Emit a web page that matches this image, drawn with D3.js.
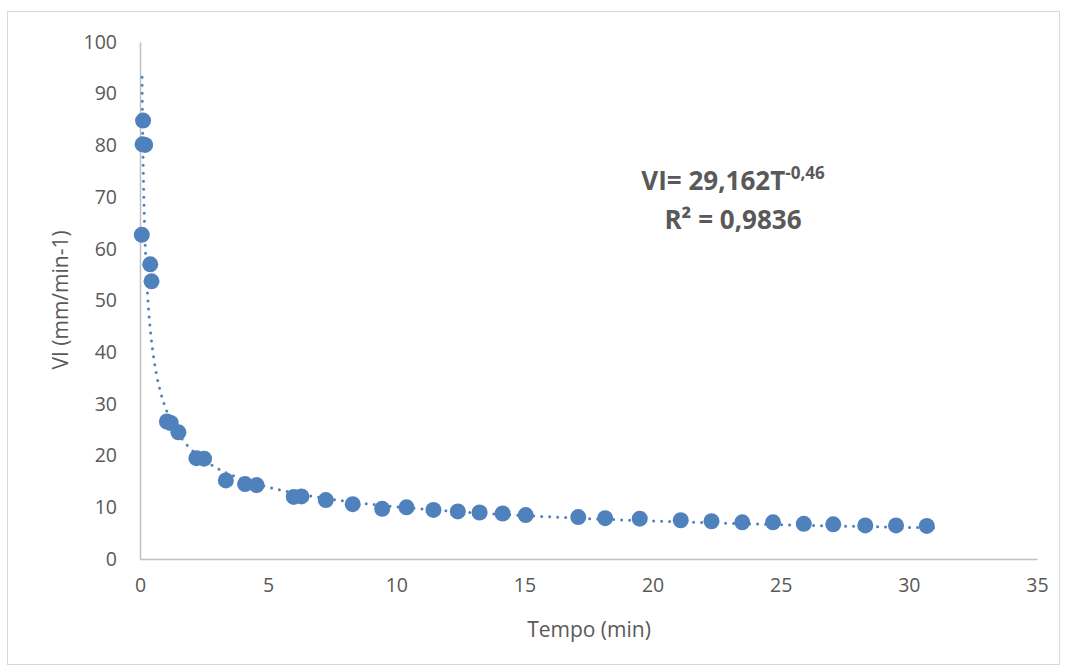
<!DOCTYPE html>
<html lang="en">
<head>
<meta charset="UTF-8">
<title>VI x Tempo</title>
<style>
  body { margin: 0; background: #fff; }
  text { font-family: "Open Sans", "Liberation Sans", sans-serif; fill: #595959; }
</style>
</head>
<body>
<script src="https://d3js.org/d3.v7.min.js"></script>
<div id="chart"></div>
<script>
// dados
var tempo = [0.12, 0.1, 0.2, 0.07, 0.4, 0.45, 1.05, 1.2, 1.5, 2.2, 2.5, 3.35, 4.1, 4.55,
             6.0, 6.3, 7.25, 8.3, 9.45, 10.4, 11.45, 12.4, 13.25, 14.15, 15.05,
             17.1, 18.15, 19.5, 21.1, 22.3, 23.5, 24.7, 25.9, 27.05, 28.3, 29.5, 30.7];
var vi = [84.8, 80.2, 80.1, 62.7, 57.0, 53.7, 26.6, 26.3, 24.5, 19.5, 19.4, 15.2, 14.5, 14.3,
          12.0, 12.1, 11.4, 10.6, 9.7, 10.0, 9.5, 9.2, 9.0, 8.8, 8.5,
          8.1, 7.9, 7.8, 7.5, 7.3, 7.1, 7.1, 6.8, 6.7, 6.5, 6.5, 6.4];
var xTicks = [0, 5, 10, 15, 20, 25, 30, 35];
var yTicks = [0, 10, 20, 30, 40, 50, 60, 70, 80, 90, 100];
// linha de tendência potencial (equação exibida no gráfico)
var coefA = 29.162, coefB = -0.46;
var trendStart = 0.08, trendEnd = 31;

var W = 1067, H = 669;
var margin = { top: 42, right: 30, bottom: 110, left: 140 },
    width = 1037 - margin.left,
    height = 559 - margin.top;

var svg = d3.select("#chart").append("svg")
    .attr("width", W)
    .attr("height", H);

// moldura
svg.append("rect")
    .attr("x", 7.5).attr("y", 11.5)
    .attr("width", 1052).attr("height", 653)
    .attr("fill", "none")
    .attr("stroke", "#d9d9d9");

var g = svg.append("g")
    .attr("transform", "translate(" + margin.left + "," + margin.top + ")");

var x = d3.scaleLinear().domain([0, 35]).range([0, width]);
var y = d3.scaleLinear().domain([0, 100]).range([height, 0]);

// eixos
var xAxis = g.append("g")
    .attr("transform", "translate(0," + height + ")")
    .call(d3.axisBottom(x).tickValues(xTicks).tickSize(0).tickPadding(19));
xAxis.select(".domain").attr("stroke", "#bfbfbf").attr("stroke-width", 1.5);
xAxis.selectAll("text").style("font-size", "19.5px").attr("fill", "#595959");

var yAxis = g.append("g")
    .call(d3.axisLeft(y).tickValues(yTicks).tickSize(0).tickPadding(23));
yAxis.select(".domain").attr("stroke", "#bfbfbf").attr("stroke-width", 1.5);
yAxis.selectAll("text").style("font-size", "19.5px").attr("fill", "#595959");

// pontos
var pts = tempo.map(function(t, i) { return { t: t, v: vi[i] }; });
g.selectAll("circle")
    .data(pts)
    .enter()
    .append("circle")
    .attr("cx", function(d) { return x(d.t); })
    .attr("cy", function(d) { return y(d.v); })
    .attr("r", 8)
    .attr("fill", "#4F81BD");

// tendência
var trend = d3.range(0, 301).map(function(i) {
    var t = trendStart * Math.pow(trendEnd / trendStart, i / 300);
    return { t: t, v: coefA * Math.pow(t, coefB) };
});
g.append("path")
    .datum(trend)
    .attr("fill", "none")
    .attr("stroke", "#4F81BD")
    .attr("stroke-width", 3)
    .attr("stroke-linecap", "round")
    .attr("stroke-dasharray", "0,8")
    .attr("d", d3.line()
        .x(function(d) { return x(d.t); })
        .y(function(d) { return y(d.v); }));

// títulos dos eixos
svg.append("text")
    .attr("x", 589).attr("y", 637)
    .attr("text-anchor", "middle")
    .style("font-size", "21px")
    .text("Tempo (min)");

svg.append("text")
    .attr("transform", "translate(68,300) rotate(-90)")
    .attr("text-anchor", "middle")
    .style("font-size", "21px")
    .text("VI (mm/min-1)");

// equação
var eq = svg.append("text")
    .attr("x", 733).attr("y", 190)
    .attr("text-anchor", "middle")
    .style("font-size", "26px")
    .style("font-weight", "bold");
eq.append("tspan").text("VI= 29,162T");
eq.append("tspan").attr("dy", -11).style("font-size", "17px").text("-0,46");

svg.append("text")
    .attr("x", 733).attr("y", 229)
    .attr("text-anchor", "middle")
    .style("font-size", "26px")
    .style("font-weight", "bold")
    .text("R² = 0,9836");
</script>
</body>
</html>
